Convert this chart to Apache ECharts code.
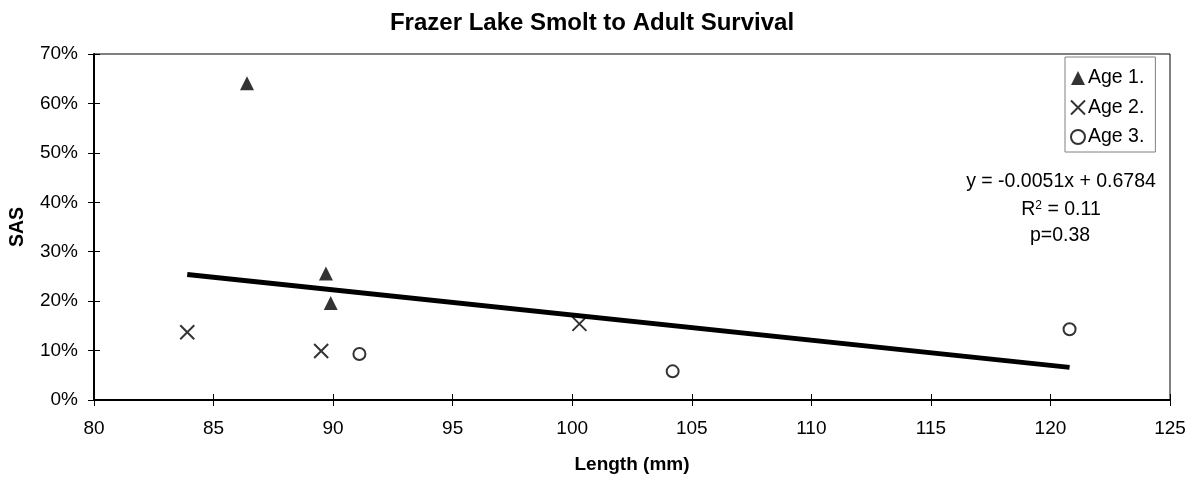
<!DOCTYPE html>
<html>
<head>
<meta charset="utf-8">
<script src="https://cdn.jsdelivr.net/npm/echarts@6/dist/echarts.min.js"></script>
<style>
html,body{margin:0;padding:0;background:#fff;}
#chart{width:1198px;height:479px;}
</style>
</head>
<body>
<div id="chart"></div>
<script>
// ---- Data ----
const titleText = 'Frazer Lake Smolt to Adult Survival';
const xAxisName = 'Length (mm)';
const yAxisName = 'SAS';
const seriesNames = ['Age 1.', 'Age 2.', 'Age 3.'];
const age1Length = [86.4, 89.7, 89.9];
const age1SAS    = [0.641, 0.256, 0.196];
const age2Length = [83.9, 89.5, 100.3];
const age2SAS    = [0.137, 0.099, 0.154];
const age3Length = [91.1, 104.2, 120.8];
const age3SAS    = [0.093, 0.058, 0.143];
const trendLength = [83.9, 120.8];
const trendSAS    = [0.254, 0.066];
const xMin = 80, xMax = 125, xStep = 5;
const yMin = 0, yMax = 0.7, yStep = 0.1;
const eqLines = ['y = -0.0051x + 0.6784', 'R{sup|2} = 0.11', 'p=0.38'];

const zip = (a, b) => a.map((v, i) => [v, b[i]]);
const FONT = 'Liberation Sans, Arial, sans-serif';
const xPath = 'path://M0,0L10,10M10,0L0,10';

const chart = echarts.init(document.getElementById('chart'), null, {renderer: 'canvas'});
chart.setOption({
  animation: false,
  backgroundColor: '#fff',
  textStyle: {fontFamily: FONT, color: '#000'},
  title: {
    text: titleText, left: 587, top: 6, textAlign: 'center',
    textStyle: {fontFamily: FONT, fontWeight: 'bold', fontSize: 24, color: '#000'}
  },
  grid: {left: 94, right: 28, top: 54, bottom: 77, show: true, borderColor: '#000', borderWidth: 1, backgroundColor: 'transparent'},
  xAxis: [{
    type: 'value', min: xMin, max: xMax, interval: xStep,
    name: xAxisName, nameLocation: 'middle', nameGap: 55,
    nameTextStyle: {fontFamily: FONT, fontWeight: 'bold', fontSize: 19, color: '#000'},
    axisLine: {lineStyle: {color: '#000', width: 2}},
    axisTick: {show: true, length: 6, lineStyle: {color: '#000'}},
    axisLabel: {fontFamily: FONT, fontSize: 19, color: '#000', margin: 19},
    splitLine: {show: false}
  }, {
    type: 'value', min: xMin, max: xMax, interval: xStep, position: 'bottom',
    axisLine: {show: false}, axisLabel: {show: false}, splitLine: {show: false},
    axisTick: {show: true, inside: true, length: 6, lineStyle: {color: '#000'}}
  }],
  yAxis: [{
    type: 'value', min: yMin, max: yMax, interval: yStep,
    name: yAxisName, nameLocation: 'middle', nameGap: 66, nameRotate: 90,
    nameTextStyle: {fontFamily: FONT, fontWeight: 'bold', fontSize: 19.5, color: '#000'},
    axisLine: {show: true, lineStyle: {color: '#000', width: 2}},
    axisTick: {show: true, length: 6, lineStyle: {color: '#000'}},
    axisLabel: {fontFamily: FONT, fontSize: 19, color: '#000', margin: 16,
      formatter: v => Math.round(v * 100) + '%'},
    splitLine: {show: false}
  }, {
    type: 'value', min: yMin, max: yMax, interval: yStep, position: 'left',
    axisLine: {show: false}, axisLabel: {show: false}, splitLine: {show: false},
    axisTick: {show: true, inside: true, length: 6, lineStyle: {color: '#000'}}
  }],
  legend: {
    orient: 'vertical', left: 1065, top: 57,
    padding: [11, 11, 5, 5], itemGap: 9.5, itemWidth: 14, itemHeight: 14,
    borderColor: '#808080', borderWidth: 1, backgroundColor: '#fff',
    textStyle: {fontFamily: FONT, fontSize: 19.5, color: '#000', lineHeight: 20, padding: [0,0,0,-2]},
    data: [
      {name: seriesNames[0], icon: 'triangle', itemStyle: {color: '#000'}},
      {name: seriesNames[1], icon: xPath, itemStyle: {color: '#000', borderColor: '#000', borderWidth: 2}},
      {name: seriesNames[2], icon: 'circle', itemStyle: {color: '#fff', borderColor: '#000', borderWidth: 2}}
    ]
  },
  graphic: [{
    type: 'text', x: 1061, y: 182, z: 10,
    style: {text: eqLines[0], fontFamily: FONT, fontSize: 19.5, fill: '#000', align: 'center', verticalAlign: 'middle'}
  }, {
    type: 'text', x: 1061, y: 210, z: 10,
    style: {
      text: eqLines[1], fontFamily: FONT, fontSize: 19.5, fill: '#000', align: 'center', verticalAlign: 'middle',
      rich: {sup: {fontSize: 12, verticalAlign: 'top', fontFamily: FONT, fill: '#000', padding: [0,0,9,0]}}
    }
  }, {
    type: 'text', x: 1060, y: 236, z: 10,
    style: {text: eqLines[2], fontFamily: FONT, fontSize: 19.5, fill: '#000', align: 'center', verticalAlign: 'middle'}
  }],
  series: [{
    name: 'Trend', type: 'line', data: zip(trendLength, trendSAS),
    showSymbol: false, symbol: 'none', lineStyle: {color: '#000', width: 5}, z: 1
  }, {
    name: seriesNames[0], type: 'scatter', data: zip(age1Length, age1SAS),
    symbol: 'triangle', symbolSize: 14, itemStyle: {color: '#000'}, z: 3
  }, {
    name: seriesNames[1], type: 'scatter', data: zip(age2Length, age2SAS),
    symbol: xPath, symbolSize: 14, itemStyle: {color: '#000', borderColor: '#000', borderWidth: 2}, z: 3
  }, {
    name: seriesNames[2], type: 'scatter', data: zip(age3Length, age3SAS),
    symbol: 'circle', symbolSize: 12, itemStyle: {color: '#fff', borderColor: '#000', borderWidth: 2}, z: 3
  }]
});
</script>
</body>
</html>
